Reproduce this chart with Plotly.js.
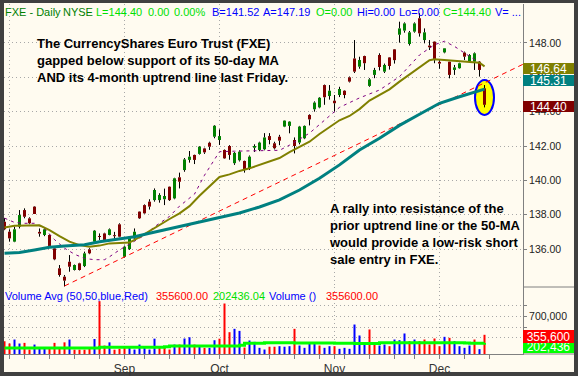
<!DOCTYPE html>
<html><head><meta charset="utf-8">
<script src="https://cdn.plot.ly/plotly-3.0.1.min.js"></script>
<style>html,body{margin:0;padding:0;background:#404040;}#chart{width:578px;height:376px;}</style>
</head><body><div id="chart"></div>
<script>
// ---------- DATA ----------
const dates = ['2007-07-31','2007-08-01','2007-08-02','2007-08-03','2007-08-06','2007-08-07','2007-08-08','2007-08-09','2007-08-10','2007-08-13','2007-08-14','2007-08-15','2007-08-16','2007-08-17','2007-08-20','2007-08-21','2007-08-22','2007-08-23','2007-08-24','2007-08-27','2007-08-28','2007-08-29','2007-08-30','2007-08-31',
'2007-09-04','2007-09-05','2007-09-06','2007-09-07','2007-09-10','2007-09-11','2007-09-12','2007-09-13','2007-09-14','2007-09-17','2007-09-18','2007-09-19','2007-09-20','2007-09-21','2007-09-24','2007-09-25','2007-09-26','2007-09-27','2007-09-28',
'2007-10-01','2007-10-02','2007-10-03','2007-10-04','2007-10-05','2007-10-08','2007-10-09','2007-10-10','2007-10-11','2007-10-12','2007-10-15','2007-10-16','2007-10-17','2007-10-18','2007-10-19','2007-10-22','2007-10-23','2007-10-24','2007-10-25','2007-10-26','2007-10-29','2007-10-30','2007-10-31',
'2007-11-01','2007-11-02','2007-11-05','2007-11-06','2007-11-07','2007-11-08','2007-11-09','2007-11-12','2007-11-13','2007-11-14','2007-11-15','2007-11-16','2007-11-19','2007-11-20','2007-11-21','2007-11-23','2007-11-26','2007-11-27','2007-11-28','2007-11-29','2007-11-30',
'2007-12-03','2007-12-04','2007-12-05','2007-12-06','2007-12-07','2007-12-10','2007-12-11','2007-12-12','2007-12-13','2007-12-14'];

const open  = [137.59,137.01,136.43,137.30,138.27,137.79,138.47,137.00,136.82,136.82,136.04,134.88,134.39,135.26,134.78,135.17,135.01,135.98,136.43,136.75,136.91,136.82,136.80,137.44,
135.55,136.00,136.62,138.18,138.56,138.76,138.85,138.85,138.90,139.63,138.95,140.18,140.60,141.19,141.48,141.54,141.86,142.19,142.54,
142.35,141.77,142.00,141.00,141.17,141.13,140.70,141.90,141.77,141.81,142.58,142.16,142.54,143.13,143.17,142.35,142.20,142.45,143.81,144.14,144.25,145.55,144.91,
144.64,144.97,145.22,146.00,147.10,146.62,147.24,145.50,146.14,147.30,146.33,147.16,147.63,148.48,148.72,147.94,148.66,149.44,148.17,147.85,148.08,
146.90,147.45,146.91,146.43,146.53,147.44,146.95,146.91,146.91,145.36];
const high  = [137.80,137.15,137.30,138.27,138.37,137.85,138.50,137.20,137.20,136.85,136.10,135.07,134.49,135.65,135.10,135.20,135.85,136.05,137.11,136.91,136.95,137.20,137.00,137.50,
136.20,136.75,137.20,138.20,138.60,138.90,139.53,139.25,139.52,139.65,140.15,140.45,141.30,141.71,141.50,142.00,141.90,142.25,143.22,
142.97,141.80,142.05,141.65,141.75,141.15,141.45,142.10,142.25,142.75,142.75,142.25,142.65,143.50,143.45,142.50,143.17,143.20,143.85,144.60,144.85,145.58,145.55,
144.97,145.45,145.25,146.05,148.17,147.20,147.26,145.95,146.55,147.40,146.80,147.18,147.65,149.24,149.20,148.70,149.20,149.73,148.85,148.17,148.10,
147.00,147.70,146.92,146.72,146.85,147.50,147.35,147.45,146.95,145.55];
const low   = [137.10,136.43,136.40,137.20,137.79,137.45,138.04,136.72,136.75,136.10,135.35,134.39,133.82,134.68,134.75,134.75,134.95,135.70,136.40,136.53,136.50,136.80,136.60,136.68,
135.50,135.95,136.53,137.75,138.05,138.30,138.76,138.70,138.56,138.80,138.90,139.53,140.50,141.03,140.95,141.50,141.54,141.77,142.45,
142.06,141.25,141.20,140.90,141.10,140.45,140.60,141.65,141.70,141.75,142.10,141.80,142.05,143.10,142.74,141.57,142.10,142.40,143.20,144.00,144.20,144.40,144.70,
144.00,144.85,144.78,145.70,146.25,146.50,146.43,145.45,145.95,146.40,146.25,146.45,146.80,148.02,148.60,147.85,148.60,148.37,147.98,147.59,146.82,
146.50,147.40,145.94,146.14,146.50,147.01,146.90,146.43,146.04,144.25];
const close = [137.15,136.62,137.15,137.98,137.88,137.50,138.04,136.90,137.15,136.18,135.40,134.49,134.16,134.97,135.07,134.78,135.75,135.75,137.07,136.70,136.53,137.15,136.75,136.72,
136.14,136.72,137.01,137.79,138.08,138.47,139.44,139.15,139.09,138.85,140.12,139.92,141.22,141.38,141.19,141.96,141.63,141.96,143.18,
142.58,141.28,141.48,141.60,141.67,140.60,141.38,142.00,142.20,142.50,142.35,141.87,142.31,143.48,143.42,142.00,143.13,143.17,143.55,144.53,144.81,144.84,145.22,
144.49,145.32,144.97,145.75,146.33,147.01,146.82,145.88,146.43,146.60,146.72,146.66,147.00,148.85,149.14,148.62,149.14,148.56,148.62,147.75,147.05,
146.80,147.69,146.14,146.58,146.82,147.20,147.30,147.40,146.43,144.40];

const volume = [237000,194000,268000,194000,206000,83000,175000,100000,120000,100000,206000,120000,216000,268000,80000,80000,80000,110000,278000,978000,156000,216000,80000,96000,
140000,114000,83000,175000,145000,83000,284000,114000,114000,83000,175000,175000,287000,310000,175000,157000,114000,114000,255000,
284000,935000,404000,466000,428000,120000,250000,225000,114000,83000,135000,135000,145000,135000,145000,466000,157000,114000,207000,207000,157000,114000,145000,
145000,96000,114000,96000,546000,343000,194000,454000,219000,157000,176000,145000,268000,256000,380000,238000,268000,238000,268000,176000,287000,
145000,318000,299000,238000,145000,114000,157000,268000,90000,355600];
const volDir = 'rrbbrrbbbrrrrbrrrrbrrbrr' + 'rbbbbbbrrrbrbbrbrbb' + 'rrrbbrbbbbrrbbbrbbbbrbb' + 'rbbbbbbrrbbrbbbrbrrrr' + 'rbrbbbbrbr';

// moving averages read at sample dates (bar index, value)
const ma20Days = [0,2,7,9,11,13,15,17,19,21,23,25,27,29,31,33,35,37,39,41,43,45,47,49,51,53,55,57,59,61,63,65,67,69,71,73,75,77,79,81,83,85,86,88,90,92,94,95,96];
const ma20Vals = [137.25,137.35,137.38,137.10,136.75,136.43,136.23,136.14,136.20,136.33,136.35,136.38,136.70,137.05,137.45,137.75,138.08,138.50,139.10,139.65,140.20,140.35,140.55,140.70,140.90,141.10,141.30,141.65,141.95,142.25,142.70,143.10,143.50,143.75,144.15,144.65,144.97,145.30,145.75,146.15,146.60,147.00,147.05,147.00,146.97,146.91,146.87,146.85,146.64];
const ma50Days = [0,3,6,9,12,16,19,23,26,29,32,35,39,43,47,51,55,59,63,67,71,75,79,83,87,91,94,96];
const ma50Vals = [135.75,135.80,135.95,136.10,136.18,136.25,136.43,136.62,136.72,136.92,137.12,137.30,137.55,137.85,138.10,138.45,138.86,139.44,140.12,140.90,141.77,142.45,143.20,143.85,144.49,144.87,145.16,145.31];
const ma10Days = [0,2,4,6,8,10,12,14,16,18,20,21,23,26,28,30,33,35,38,40,43,46,49,52,55,57,61,64,67,71,75,79,83,86,88,90,92,94,96];
const ma10Vals = [137.80,137.55,137.50,137.50,137.20,136.55,136.05,135.70,135.45,135.38,135.38,135.55,135.95,136.45,136.80,137.30,137.90,138.50,139.20,140.30,141.67,141.70,141.71,141.70,141.75,142.05,142.75,143.50,144.25,144.80,145.26,146.04,147.30,147.90,148.10,147.80,147.40,147.00,146.65];
const volAvgDays = [0,18,19,32,33,47,48,52,58,66,70,75,86,92,93,96];
const volAvgVals = [110000,110000,125000,135000,150000,160000,200000,210000,205000,200000,195000,210000,210000,205000,200000,202436];

// uptrend line: from the August low, extended to the right edge
const trendX = [12, 103.7];
const trendY = [133.85, 146.76];

const monthTickDates = ['2007-08-01','2007-09-04','2007-10-01','2007-11-01','2007-12-03'];
const monthLabels = ['', 'Sep', 'Oct', 'Nov', 'Dec'];
const weekTickDates = ['2007-08-06','2007-08-13','2007-08-20','2007-08-27','2007-09-10','2007-09-17','2007-09-24','2007-10-08','2007-10-15','2007-10-22','2007-10-29','2007-11-05','2007-11-12','2007-11-19','2007-11-26','2007-12-10'];
const priceTicks = [136,138,140,142,144,146,148];
const volTicks = [300000,500000,700000,900000];
const volTickText = ['','','700,000',''];

const lastMA20 = 146.64, lastMA50 = 145.31, lastClose = 144.40, purpleMark = 146.06;
const lastVol = 355600, lastVolAvg = 202436;

// ---------- BUILD ----------
const FONT = 'Liberation Sans, Arial, sans-serif';
const idx = dates.map((d, i) => i);
const UP = '#008000', DOWN = '#800000';
const bodyBase = open.map((o, i) => Math.min(o, close[i]));
const bodyLen = open.map((o, i) => Math.max(Math.abs(close[i] - o), 0.06));
const bodyCol = open.map((o, i) => close[i] >= o ? UP : DOWN);
const wx = [], wy = [];
idx.forEach(i => {
  const top = Math.max(open[i], close[i]), bot = Math.min(open[i], close[i]);
  if (high[i] > top) { wx.push(i, i, null); wy.push(high[i], top, null); }
  if (low[i] < bot) { wx.push(i, i, null); wy.push(bot, low[i], null); }
});
const volCol = volDir.split('').map(c => c === 'b' ? '#0000ff' : '#ff0000');

const traces = [
  {type:'bar', x: idx, y: bodyLen, base: bodyBase, width: 0.6, marker:{color: bodyCol, line:{width:0}}, xaxis:'x', yaxis:'y', hoverinfo:'skip'},
  {type:'scatter', mode:'lines', x: wx, y: wy, line:{color:'#000', width:1}, xaxis:'x', yaxis:'y', hoverinfo:'skip'},
  {type:'scatter', mode:'lines', x: trendX, y: trendY, line:{color:'#ff0000', width:1, dash:'5px,4px'}, xaxis:'x', yaxis:'y'},
  {type:'scatter', mode:'lines', x: ma10Days, y: ma10Vals, line:{color:'#800080', width:1, dash:'3px,4px'}, xaxis:'x', yaxis:'y'},
  {type:'scatter', mode:'lines', x: ma20Days, y: ma20Vals, line:{color:'#808000', width:2}, xaxis:'x', yaxis:'y'},
  {type:'scatter', mode:'lines', x: ma50Days, y: ma50Vals, line:{color:'#008080', width:3}, xaxis:'x', yaxis:'y'},
  {type:'bar', x: idx, y: volume, width: 0.4, marker:{color: volCol, line:{width:0}}, xaxis:'x', yaxis:'y2', hoverinfo:'skip'},
  {type:'scatter', mode:'lines', x: volAvgDays, y: volAvgVals, line:{color:'#00ff00', width:3, shape:'hv'}, xaxis:'x', yaxis:'y2'}
];

const PX = px => (px - 4) / 519;         // horizontal pixel -> paper
const PY = py => (354 - py) / 350;       // vertical pixel -> paper
const GRID = '#a8a8a8', AX = '#808080';

const ann = [];
function txt(t, px, py, color, size, bold, anchor) {
  ann.push({text: bold ? '<b>' + t + '</b>' : t, xref:'paper', yref:'paper', x: PX(px), y: PY(py),
    xanchor:'left', yanchor: anchor || 'middle', showarrow:false, align:'left',
    font:{family: FONT, size: size, color: color}, borderpad:0});
}
const LIME = '#00e000', BLUE = '#0000ff', DKG = '#008000', RED = '#ff0000';
[['FXE - Daily',4,DKG],['NYSE',62,DKG],['L=144.40',95,LIME],['0.00',147,LIME],['0.00%',173,LIME],
 ['B=141.52',211,BLUE],['A=147.19',262,BLUE],['O=0.00',315,LIME],['Hi=0.00',356,BLUE],['Lo=0.00',398,BLUE],
 ['C=144.40',442,LIME],['V= ...',494,BLUE]].forEach(s => txt(s[0], s[1], 12, s[2], 11));
[['Volume Avg (50,50,blue,Red)',4,BLUE],['355600.00',155,RED],['202436.04',212,LIME],['Volume ()',268,BLUE],['355600.00',325,RED]]
 .forEach(s => txt(s[0], s[1], 296, s[2], 11));
txt('The CurrencyShares Euro Trust (FXE)<br>gapped below support of its 50-day MA<br>AND its 4-month uptrend line last Friday.', 36, 35, '#000', 13, true, 'top');
txt('A rally into resistance of the<br>prior uptrend line or the 50-MA<br>would provide a low-risk short<br>sale entry in FXE.', 328, 200, '#000', 13, true, 'top');

function tag(val, yref, bg, shift, h) {
  ann.push({text: val, xref:'paper', yref: yref, x: 1, y: parseFloat(val.replace(/,/g,'')), xanchor:'left', yanchor:'middle',
    showarrow:false, bgcolor: bg, width: 51, height: h, borderpad:0, borderwidth:0, yshift: shift,
    font:{family: FONT, size: 12, color:'#fff'}, align:'center'});
}
tag(lastMA20.toFixed(2), 'y', '#808000', -2.6, 11);
tag(lastMA50.toFixed(2), 'y', '#008080', 8.7, 11);
tag(lastClose.toFixed(2), 'y', '#800000', -1.5, 11);
tag(lastVolAvg.toLocaleString('en-US'), 'y2', '#00ff00', -3.4, 13);
tag(lastVol.toLocaleString('en-US'), 'y2', '#ff0000', -1.9, 13);

const shapes = [
  {type:'rect', xref:'paper', yref:'paper', x0: PX(4), x1: PX(574), y0: PY(372), y1: PY(3), fillcolor:'#fffbf0', line:{width:0}, layer:'below'},
  {type:'line', xref:'paper', yref:'paper', x0: 1, x1: PX(574), y0: PY(287), y1: PY(287), line:{color:AX, width:1}},
  {type:'line', xref:'paper', yref:'paper', x0: 1, x1: PX(574), y0: 0, y1: 0, line:{color:AX, width:1}},
  {type:'line', xref:'paper', yref:'y', x0: 1, x1: PX(574), y0: purpleMark, y1: purpleMark, line:{color:'#800080', width:1}},
  {type:'circle', xref:'x', yref:'y', x0: idx[idx.length-1] - 1.9, x1: idx[idx.length-1] + 1.9, y0: 143.81, y1: 145.85,
   fillcolor:'#ffff00', line:{color:'#0000ff', width:2}, layer:'between'}
];

const layout = {
  width: 578, height: 376, margin:{l:4, r:55, t:4, b:22, pad:0},
  paper_bgcolor:'#404040', plot_bgcolor:'#fffbf0', showlegend:false, barmode:'overlay',
  font:{family: FONT},
  xaxis:{domain:[0,1], anchor:'y2', range:[-0.1, 103.7], tickmode:'array',
    tickvals: monthTickDates.map(d => dates.indexOf(d)), ticktext: monthLabels,
    ticks:'outside', ticklen:4, tickcolor:AX, showline:true, linecolor:AX, linewidth:1,
    showgrid:true, gridcolor:GRID, griddash:'1px,3px', gridwidth:1, zeroline:false,
    tickfont:{family: FONT, size:12, color:'#333'},
    minor:{tickmode:'array', tickvals: weekTickDates.map(d => dates.indexOf(d)).concat([dates.length]), ticks:'outside', ticklen:4, tickcolor:AX, showgrid:false}},
  yaxis:{domain:[PY(287), 1], anchor:'x', side:'right', range:[133.79, 150.27], tickmode:'array', tickvals: priceTicks,
    tickformat:'.2f', ticks:'outside', ticklen:3, tickcolor:AX, showline:true, linecolor:AX,
    showgrid:true, gridcolor:GRID, griddash:'1px,3px', zeroline:false, tickfont:{family: FONT, size:10.5, color:'#222'}},
  yaxis2:{domain:[0, PY(287)], anchor:'x', side:'right', range:[0, 1240740], tickmode:'array', tickvals: volTicks, ticktext: volTickText,
    ticks:'outside', ticklen:3, tickcolor:AX, showline:true, linecolor:AX,
    showgrid:true, gridcolor:GRID, griddash:'1px,3px', zeroline:false, tickfont:{family: FONT, size:10.5, color:'#222'}},
  annotations: ann, shapes: shapes
};
Plotly.newPlot('chart', traces, layout, {staticPlot:true, displayModeBar:false});
</script></body></html>
